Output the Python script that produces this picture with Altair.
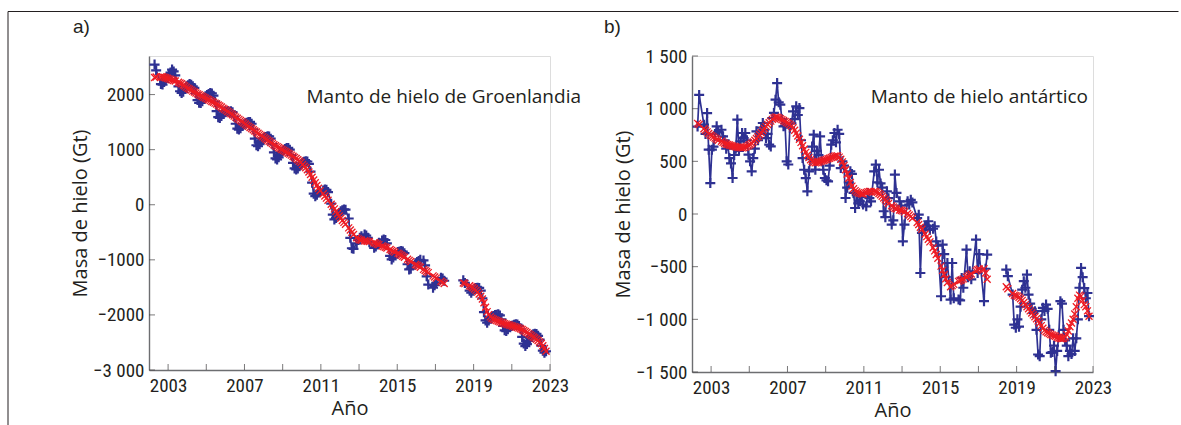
import altair as alt
import pandas as pd

# ---------------- data ----------------
obs_years = [2002, 2003, 2004, 2005, 2006, 2007, 2008, 2009, 2010, 2011,
             2012, 2013, 2014, 2015, 2016, 2017, 2018, 2019, 2020, 2021, 2022]
FULL = [1, 2, 3, 4, 5, 6, 7, 8, 9, 10, 11, 12]
obs_months = [
    [4, 5, 8, 9, 10, 11, 12],              # 2002
    [1, 2, 3, 4, 5, 7, 8, 9, 10, 11, 12],  # 2003
    FULL, FULL, FULL, FULL, FULL, FULL, FULL,  # 2004-2010
    [2, 3, 4, 5, 7, 8, 9, 10, 11, 12],     # 2011
    [1, 2, 3, 4, 6, 7, 8, 9, 11, 12],      # 2012
    [1, 2, 4, 5, 6, 7, 10, 11, 12],        # 2013
    [1, 3, 4, 5, 6, 8, 9, 10, 11],         # 2014
    [1, 2, 3, 4, 5, 7, 8, 9, 12],          # 2015
    [1, 2, 3, 5, 6, 7, 8, 11, 12],         # 2016
    [1, 4, 5, 6],                          # 2017
    [6, 7, 10, 11, 12],                    # 2018
    FULL, FULL, FULL,                      # 2019-2021
    [1, 2, 3, 4, 5, 6, 7, 8, 9, 10],       # 2022
]

greenland_monthly = [
    2545, 2440, 2190, 2181, 2230, 2280, 2320,
    2360, 2400, 2453, 2420, 2350, 2150, 2060, 2030, 2050, 2100, 2150,
    2170, 2190, 2180, 2150, 2120, 2020, 1900, 1850, 1848, 1880, 1930, 1970,
    1990, 2010, 2030, 2020, 1980, 1870, 1700, 1590, 1576, 1610, 1660, 1700,
    1690, 1700, 1690, 1697, 1680, 1600, 1470, 1380, 1365, 1390, 1430, 1460,
    1480, 1490, 1500, 1503, 1470, 1370, 1200, 1080, 1062, 1100, 1160, 1200,
    1220, 1230, 1244, 1240, 1200, 1100, 950, 840, 821, 860, 920, 960,
    990, 1010, 1030, 1032, 1000, 900, 760, 660, 640, 660, 700, 740,
    760, 780, 790, 785, 740, 600, 400, 200, 156, 180, 220, 250,
    260, 277, 270, 230, 20, -180, -267, -240, -190, -150,
    -120, -100, -86, -90, -250, -600, -790, -800, -700, -640,
    -600, -570, -539, -560, -600, -680, -782, -760, -720,
    -690, -650, -630, -640, -700, -930, -992, -960, -900,
    -860, -850, -842, -850, -880, -1080, -1174, -1160, -1060,
    -1040, -1020, -1000, -1010, -1100, -1300, -1450, -1507, -1460,
    -1420, -1326, -1340, -1380,
    -1373, -1420, -1560, -1598, -1560,
    -1530, -1510, -1507, -1510, -1560, -1700, -1950, -2100, -2142, -2100, -2060, -2030,
    -2020, -2000, -1995, -1990, -2010, -2080, -2200, -2280, -2293, -2260, -2220, -2200,
    -2190, -2180, -2171, -2175, -2200, -2260, -2400, -2520, -2565, -2530, -2470, -2420,
    -2380, -2350, -2341, -2345, -2380, -2450, -2560, -2650, -2686, -2660,
]
greenland_smooth = [
    2310, 2318, 2325, 2322, 2315, 2305, 2295,
    2285, 2275, 2265, 2255, 2245, 2225, 2210, 2195, 2175, 2155, 2135,
    2115, 2097, 2080, 2062, 2045, 2028, 2012, 1996, 1980, 1965, 1950, 1935,
    1920, 1905, 1890, 1875, 1860, 1845, 1830, 1812, 1793, 1773, 1753, 1733,
    1713, 1692, 1672, 1652, 1632, 1611, 1590, 1570, 1550, 1528, 1507, 1486,
    1465, 1444, 1423, 1402, 1381, 1361, 1340, 1319, 1298, 1277, 1256, 1235,
    1214, 1193, 1172, 1152, 1131, 1110, 1090, 1072, 1055, 1038, 1021, 1004,
    987, 970, 953, 936, 919, 900, 880, 860, 840, 818, 795, 772,
    730, 700, 670, 635, 595, 550, 500, 450, 400, 350, 300, 255,
    200, 160, 120, 80, 10, -30, -75, -120, -165, -205,
    -245, -285, -320, -355, -420, -460, -500, -540, -600, -620,
    -635, -645, -655, -660, -665, -670, -690, -700, -712,
    -724, -748, -760, -772, -784, -812, -828, -844, -860,
    -880, -898, -916, -934, -952, -990, -1010, -1030, -1085,
    -1100, -1118, -1136, -1174, -1193, -1212, -1232, -1292, -1312,
    -1332, -1390, -1410, -1430,
    -1420, -1432, -1470, -1488, -1508,
    -1530, -1555, -1585, -1620, -1660, -1710, -1780, -1860, -1940, -1995, -2035, -2060,
    -2078, -2092, -2104, -2115, -2126, -2137, -2148, -2158, -2167, -2176, -2185, -2194,
    -2203, -2212, -2221, -2230, -2240, -2252, -2266, -2282, -2300, -2320, -2340, -2360,
    -2380, -2400, -2420, -2442, -2466, -2492, -2520, -2560, -2610, -2660,
]
antarctica_monthly = [
    830, 1130, 848, 760, 958, 611, 294,
    611, 640, 760, 832, 780, 800, 737, 700, 620, 650, 531,
    480, 342, 560, 620, 896, 600, 690, 769, 720, 769, 700, 563,
    500, 405, 531, 620, 785, 700, 760, 820, 864, 800, 721, 760,
    658, 642, 911, 960, 1085, 1243, 1060, 1038, 900, 832, 840, 500,
    470, 820, 860, 974, 900, 1022, 940, 1006, 700, 531, 420, 340,
    215, 405, 520, 640, 753, 421, 600, 560, 737, 500, 420, 342,
    320, 310, 460, 658, 700, 769, 680, 800, 760, 436, 500, 460,
    152, 250, 300, 405, 380, 200, 57, 180, 100, 120, 160, 90,
    73, 200, 150, 120, 405, 469, 300, 420, 290, 250,
    26, -30, 215, 150, -100, -60, 374, 200, 120, 80,
    -259, -100, 120, 90, 135, 110, -40, -6, -560,
    -180, -120, -110, -69, -150, -140, -117, -260, -300,
    -781, -290, -380, -600, -465, -812, -465, -800, -812,
    -820, -607, -700, -338, -600, -544, -620, -243, -560,
    -380, -828, -520, -385,
    -528, -590, -765, -1050, -1080,
    -1000, -1070, -880, -718, -638, -700, -575, -765, -850, -900, -940, -923,
    -1100, -1334, -1350, -1000, -891, -920, -860, -900, -1100, -1318, -1310, -1250,
    -1492, -1300, -1150, -828, -850, -1100, -1200, -1250, -1350, -1300, -1330, -1180,
    -1300, -1180, -1000, -700, -512, -600, -703, -800, -750, -970,
]
antarctica_smooth = [
    860, 850, 810, 795, 780, 765, 750,
    740, 730, 720, 710, 700, 690, 680, 672, 665, 660, 655,
    650, 646, 642, 638, 635, 632, 630, 628, 630, 635, 642, 650,
    660, 672, 685, 700, 716, 733, 752, 772, 792, 812, 832, 850,
    866, 882, 898, 912, 920, 918, 912, 905, 896, 887, 878, 868,
    860, 850, 835, 818, 795, 768, 740, 710, 680, 648, 615, 585,
    558, 535, 515, 500, 490, 485, 488, 492, 497, 503, 508, 513,
    518, 524, 530, 536, 542, 548, 552, 552, 540, 520, 495, 460,
    420, 380, 340, 300, 265, 240, 222, 210, 202, 196, 192, 190,
    205, 210, 213, 215, 215, 212, 205, 195, 182, 168,
    152, 135, 118, 100, 78, 66, 55, 48, 38, 34,
    30, 20, 5, -10, -25, -40, -80, -100, -125,
    -145, -190, -215, -240, -265, -320, -350, -385, -420,
    -495, -535, -575, -615, -650, -690, -680, -668, -640,
    -632, -624, -616, -600, -590, -580, -570, -540, -530,
    -522, -520, -560, -620,
    -690, -710, -755, -770, -775,
    -780, -790, -805, -820, -840, -860, -880, -900, -920, -940, -958, -975,
    -995, -1015, -1035, -1060, -1085, -1105, -1118, -1128, -1136, -1144, -1150, -1156,
    -1160, -1170, -1178, -1182, -1184, -1180, -1168, -1145, -1110, -1070, -1035, -1000,
    -950, -880, -800, -770, -780, -820, -860, -880, -920, -970,
]

panel_letters = ["a)", "b)"]
panel_names = ["Manto de hielo de Groenlandia", "Manto de hielo antártico"]
x_label_years = [2003, 2007, 2011, 2015, 2019, 2023]
x_tick_years = [2003, 2005, 2007, 2009, 2011, 2013, 2015, 2017, 2019, 2021, 2023]
greenland_yticks = [-3000, -2000, -1000, 0, 1000, 2000]
antarctica_yticks = [-1500, -1000, -500, 0, 500, 1000, 1500]

# ---------------- table ----------------
times, segs = [], []
for yr, months in zip(obs_years, obs_months):
    for m in months:
        times.append(yr + (m - 0.5) / 12.0)
        segs.append("GRACE" if yr < 2018 else "GRACE-FO")
for arr in (greenland_monthly, greenland_smooth, antarctica_monthly, antarctica_smooth):
    assert len(arr) == len(times), (len(arr), len(times))

df_a = pd.DataFrame({"t": times, "seg": segs, "blue": greenland_monthly, "red": greenland_smooth})
df_b = pd.DataFrame({"t": times, "seg": segs, "blue": antarctica_monthly, "red": antarctica_smooth})

# ---------------- style ----------------
BLUE = "#2e3192"
RED = "#ed1c24"
TXT = "#231f20"
AXC = "#6d6e71"
LABEL_FONT = "Roboto Condensed, Liberation Sans Narrow, DejaVu Sans Condensed, sans-serif"
TITLE_FONT = "Open Sans, Noto Sans, sans-serif"
LETTER_FONT = "Liberation Sans, Arial, sans-serif"
PLUS = "M-1,0L1,0M0,-1L0,1"
CROSS = "M-1,-1L1,1M-1,1L1,-1"
W = 401
GAP = 142


def make_panel(df, ydom, yvals, ylab_expr, H, letter, letter_dx, name, name_dx, frame):
    xscale = alt.Scale(domain=[2002, 2023], nice=False, zero=False)
    yscale = alt.Scale(domain=ydom, nice=False, zero=False)
    common = dict(grid=False, ticks=False, tickSize=0, domainColor=AXC, domainWidth=1.4,
                  labelFont=LABEL_FONT, labelFontSize=19, labelColor=TXT,
                  labelOverlap=False, labelFlush=False,
                  titleFont=TITLE_FONT, titleFontSize=20, titleFontWeight="normal",
                  titleColor=TXT)
    xaxis = alt.Axis(values=x_label_years, title="Año",
                     labelExpr="format(datum.value, 'd')", labelPadding=6,
                     titlePadding=3, **common)
    yaxis = alt.Axis(values=yvals, title="Masa de hielo (Gt)", labelExpr=ylab_expr,
                     labelPadding=5, titlePadding=2, **common)

    def X(f):
        return alt.X(f, type="quantitative", scale=xscale, axis=xaxis)

    def Y(f):
        return alt.Y(f, type="quantitative", scale=yscale, axis=yaxis)

    base = alt.Chart(df)
    blue_line = base.mark_line(color=BLUE, strokeWidth=1.7).encode(x=X("t"), y=Y("blue"), detail="seg:N")
    blue_pts = base.mark_point(shape=PLUS, filled=False, color=BLUE, strokeWidth=2.2,
                               size=100, opacity=1).encode(x=X("t"), y=Y("blue"))
    red_line = base.mark_line(color=RED, strokeWidth=1.2).encode(x=X("t"), y=Y("red"), detail="seg:N")
    red_pts = base.mark_point(shape=CROSS, filled=False, color=RED, strokeWidth=1.3,
                              size=49, opacity=1).encode(x=X("t"), y=Y("red"))

    xt_df = pd.DataFrame({"t": x_tick_years, "b": [ydom[0]] * len(x_tick_years)})
    xticks = alt.Chart(xt_df).mark_tick(orient="vertical", size=6, yOffset=-3, thickness=1,
                                        color="#414042").encode(x=X("t"), y=Y("b"))
    yt_df = pd.DataFrame({"v": yvals, "t0": [2002] * len(yvals)})
    yticks = alt.Chart(yt_df).mark_tick(orient="horizontal", size=6, xOffset=3, thickness=1,
                                        color="#414042").encode(x=X("t0"), y=Y("v"))

    one = pd.DataFrame({"k": [0]})
    name_txt = alt.Chart(one).mark_text(text=name, font=TITLE_FONT, fontSize=19, color=TXT,
                                        align="left", baseline="alphabetic").encode(
        x=alt.value(name_dx), y=alt.value(46.5))
    letter_txt = alt.Chart(one).mark_text(text=letter, font=LETTER_FONT, fontSize=19, color=TXT,
                                          align="left", baseline="alphabetic").encode(
        x=alt.value(letter_dx), y=alt.value(-23))
    layers = [blue_line, blue_pts, red_line, red_pts, xticks, yticks, name_txt, letter_txt]
    if frame:
        left_line = alt.Chart(one).mark_rule(color="#231f20", strokeWidth=1).encode(
            x=alt.value(-141), y=alt.value(-44.5), y2=alt.value(369))
        top_line = alt.Chart(one).mark_rule(color="#231f20", strokeWidth=1).encode(
            x=alt.value(-141), x2=alt.value(1029.5), y=alt.value(-44.5))
        layers += [left_line, top_line]
    return alt.layer(*layers).properties(width=W, height=H)


lab_a = ("datum.value == -3000 ? '\u22123 000' : "
         "replace(format(datum.value, 'd'), '-', '\u2212')")
lab_b = ("replace(replace(format(datum.value, ','), ',', ' '), '-', '\u2212')")

panel_a = make_panel(df_a, [-3000, 2700], greenland_yticks, lab_a, 314,
                     panel_letters[0], -76, panel_names[0], 157.5, True)
panel_b = make_panel(df_b, [-1500, 1500], antarctica_yticks, lab_b, 316,
                     panel_letters[1], -88, panel_names[1], 178.7, False)

chart = alt.hconcat(panel_a, panel_b, spacing=GAP, bounds="flush").properties(
    padding={"left": 7, "top": 10, "right": 0, "bottom": 0}
).configure_view(stroke=None).configure(background="white")

chart.save("out.html", embed_options={"renderer": "svg", "actions": False})
